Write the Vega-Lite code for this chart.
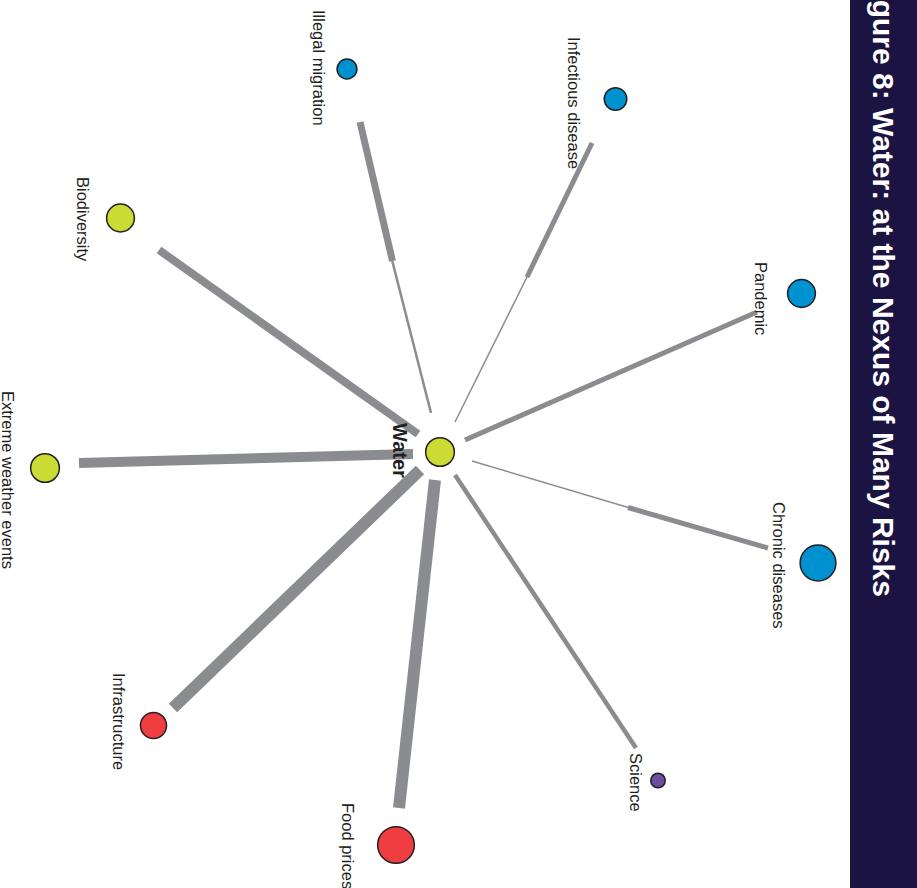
{
  "$schema": "https://vega.github.io/schema/vega-lite/v6.json",
  "width": 917,
  "height": 888,
  "autosize": {"type": "none"},
  "padding": 0,
  "background": "white",
  "config": {"view": {"stroke": null}},
  "datasets": {
    "band": [
      {"x": 850, "x2": 917, "y": 0, "y2": 888}
    ],
    "title": [
      {"text": "Figure 8: Water: at the Nexus of Many Risks", "x": 873, "y": 597}
    ],
    "edges": [
      {"target": "Illegal migration", "part": "inner", "x": 431, "y": 413, "x2": 392, "y2": 260, "weight": 2.5},
      {"target": "Illegal migration", "part": "outer", "x": 392.5, "y": 261, "x2": 360, "y2": 122, "weight": 7},
      {"target": "Infectious disease", "part": "inner", "x": 455, "y": 422, "x2": 528, "y2": 275, "weight": 1.5},
      {"target": "Infectious disease", "part": "outer", "x": 527, "y": 277, "x2": 592, "y2": 143, "weight": 5},
      {"target": "Pandemic", "part": "whole", "x": 465, "y": 440, "x2": 757, "y2": 312, "weight": 5},
      {"target": "Chronic diseases", "part": "inner", "x": 472, "y": 461, "x2": 630, "y2": 508, "weight": 1.5},
      {"target": "Chronic diseases", "part": "outer", "x": 628, "y": 507.5, "x2": 768, "y2": 548, "weight": 5},
      {"target": "Science", "part": "whole", "x": 455, "y": 475, "x2": 636, "y2": 748, "weight": 4.5},
      {"target": "Food prices", "part": "whole", "x": 435, "y": 480, "x2": 399, "y2": 808, "weight": 12},
      {"target": "Infrastructure", "part": "whole", "x": 420, "y": 470, "x2": 173, "y2": 708, "weight": 12},
      {"target": "Extreme weather events", "part": "whole", "x": 413, "y": 454, "x2": 79, "y2": 463, "weight": 10},
      {"target": "Biodiversity", "part": "whole", "x": 418, "y": 434, "x2": 159, "y2": 250, "weight": 8}
    ],
    "nodes": [
      {"name": "Water", "group": "environmental", "x": 440, "y": 452, "radius": 16.2, "lx": 393, "ly": 423},
      {"name": "Illegal migration", "group": "societal", "x": 347, "y": 69, "radius": 11.2, "lx": 313, "ly": 10},
      {"name": "Infectious disease", "group": "societal", "x": 615.5, "y": 99, "radius": 12.7, "lx": 568, "ly": 37},
      {"name": "Pandemic", "group": "societal", "x": 801.5, "y": 293.5, "radius": 15.7, "lx": 755, "ly": 262},
      {"name": "Chronic diseases", "group": "societal", "x": 818, "y": 563, "radius": 20.2, "lx": 773, "ly": 502},
      {"name": "Science", "group": "technological", "x": 658, "y": 780.5, "radius": 8.2, "lx": 630, "ly": 753},
      {"name": "Food prices", "group": "economic", "x": 396, "y": 845, "radius": 20.7, "lx": 342, "ly": 803},
      {"name": "Infrastructure", "group": "economic", "x": 153.5, "y": 725.5, "radius": 14.7, "lx": 113, "ly": 673},
      {"name": "Extreme weather events", "group": "environmental", "x": 45, "y": 468, "radius": 16.2, "lx": 2, "ly": 391},
      {"name": "Biodiversity", "group": "environmental", "x": 120.5, "y": 218, "radius": 15.7, "lx": 77, "ly": 177}
    ]
  },
  "layer": [
    {
      "data": {"name": "band"},
      "mark": {"type": "rect", "color": "#1b1342"},
      "encoding": {
        "x": {"field": "x", "type": "quantitative", "scale": {"domain": [0, 917], "nice": false, "zero": false}, "axis": null},
        "x2": {"field": "x2"},
        "y": {"field": "y", "type": "quantitative", "scale": {"domain": [0, 888], "nice": false, "zero": false, "reverse": true}, "axis": null},
        "y2": {"field": "y2"}
      }
    },
    {
      "data": {"name": "title"},
      "mark": {"type": "text", "angle": 90, "align": "right", "baseline": "alphabetic", "font": "Liberation Sans", "fontWeight": "bold", "fontSize": 30, "color": "white"},
      "encoding": {
        "x": {"field": "x", "type": "quantitative", "axis": null},
        "y": {"field": "y", "type": "quantitative", "axis": null},
        "text": {"field": "text"}
      }
    },
    {
      "data": {"name": "edges"},
      "mark": {"type": "rule", "color": "#8b8c90", "strokeCap": "butt"},
      "encoding": {
        "x": {"field": "x", "type": "quantitative", "axis": null},
        "y": {"field": "y", "type": "quantitative", "axis": null},
        "x2": {"field": "x2"},
        "y2": {"field": "y2"},
        "strokeWidth": {"field": "weight", "type": "quantitative", "scale": {"domain": [0, 12], "range": [0, 12]}, "legend": null}
      }
    },
    {
      "data": {"name": "nodes"},
      "mark": {"type": "point", "shape": "circle", "filled": true, "opacity": 1, "stroke": "#231f20", "strokeWidth": 1.5},
      "encoding": {
        "x": {"field": "x", "type": "quantitative", "axis": null},
        "y": {"field": "y", "type": "quantitative", "axis": null},
        "size": {"field": "radius", "type": "quantitative", "scale": {"type": "pow", "exponent": 2, "domain": [0, 20], "range": [0, 1256.6]}, "legend": null},
        "color": {"field": "group", "type": "nominal", "scale": {"domain": ["environmental", "societal", "economic", "technological"], "range": ["#cbdb34", "#0091d0", "#ef3d42", "#6c4e9f"]}, "legend": null}
      }
    },
    {
      "data": {"name": "nodes"},
      "transform": [{"filter": "datum.name !== 'Water'"}],
      "mark": {"type": "text", "angle": 90, "align": "left", "baseline": "alphabetic", "font": "Liberation Sans", "fontSize": 16.5, "color": "#231f20"},
      "encoding": {
        "x": {"field": "lx", "type": "quantitative", "axis": null},
        "y": {"field": "ly", "type": "quantitative", "axis": null},
        "text": {"field": "name"}
      }
    },
    {
      "data": {"name": "nodes"},
      "transform": [{"filter": "datum.name === 'Water'"}],
      "mark": {"type": "text", "angle": 90, "align": "left", "baseline": "alphabetic", "font": "Liberation Sans", "fontWeight": "bold", "fontSize": 20, "color": "#231f20"},
      "encoding": {
        "x": {"field": "lx", "type": "quantitative", "axis": null},
        "y": {"field": "ly", "type": "quantitative", "axis": null},
        "text": {"field": "name"}
      }
    }
  ]
}
